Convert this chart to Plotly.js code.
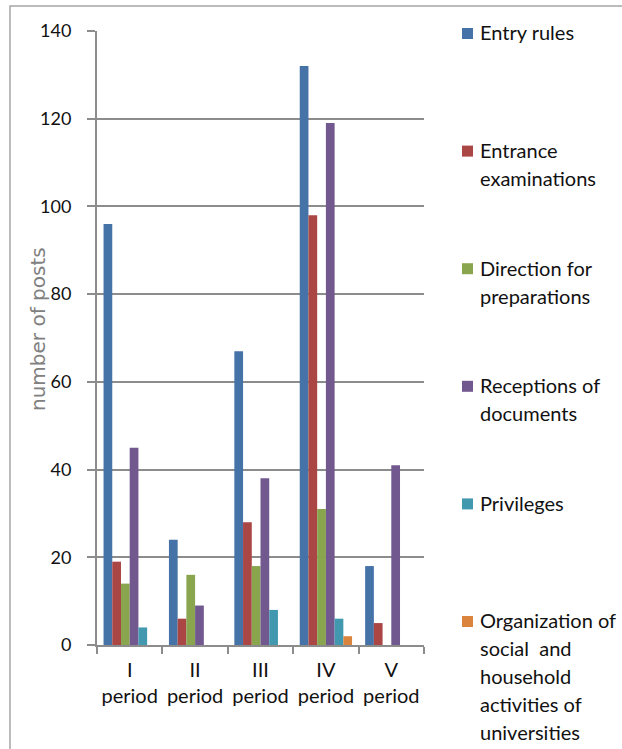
<!DOCTYPE html>
<html>
<head>
<meta charset="utf-8">
<script src="https://cdn.plot.ly/plotly-3.0.1.min.js"></script>
<style>html,body{margin:0;padding:0;background:#fff;}</style>
</head>
<body>
<div id="chart" style="width:622px;height:749px;"></div>
<script>
// ---- data ----
const categories = ["I<br>period", "II<br>period", "III<br>period", "IV<br>period", "V<br>period"];
const seriesNames = [
  "Entry rules",
  "Entrance examinations",
  "Direction for preparations",
  "Receptions of documents",
  "Privileges",
  "Organization of social and household activities of universities"
];
const legendLines = [
  ["Entry rules"],
  ["Entrance", "examinations"],
  ["Direction for", "preparations"],
  ["Receptions of", "documents"],
  ["Privileges"],
  ["Organization of", "social  and", "household", "activities of", "universities"]
];
const entryRules = [96, 24, 67, 132, 18];
const entranceExaminations = [19, 6, 28, 98, 5];
const directionForPreparations = [14, 16, 18, 31, 0];
const receptionsOfDocuments = [45, 9, 38, 119, 41];
const privileges = [4, 0, 8, 6, 0];
const organizationActivities = [0, 0, 0, 2, 0];
const yTickVals = [0, 20, 40, 60, 80, 100, 120, 140];
const yTitle = "number of posts";

// ---- styles ----
const seriesValues = [entryRules, entranceExaminations, directionForPreparations,
                      receptionsOfDocuments, privileges, organizationActivities];
const colors = ["#4572A7", "#AA4643", "#89A54E", "#71588F", "#4198AF", "#DB843D"];
const W = 622, H = 749;
const M = {l: 97, r: 198, t: 31, b: 104};
const PW = W - M.l - M.r, PH = H - M.t - M.b;
const px2x = px => (px - M.l) / PW;
const py2y = py => (H - M.b - py) / PH;
const FONT = "Lato, 'Liberation Sans', sans-serif";
const GRAY = "#8c8c8c";

const traces = seriesValues.map((vals, i) => ({
  type: "bar",
  name: seriesNames[i],
  x: categories,
  y: vals,
  marker: {color: colors[i], line: {width: 0}},
  showlegend: false,
  hoverinfo: "name+y"
}));

const shapes = [];
const annotations = [];

// outer frame
shapes.push({type: "rect", xref: "paper", yref: "paper",
  x0: px2x(10), x1: px2x(760), y0: py2y(6), y1: py2y(900),
  line: {color: "#a6a6a6", width: 1.5}, fillcolor: "rgba(0,0,0,0)", layer: "below"});

// legend drawn as swatches + text
const LEG_BASE0 = 40, LEG_STEP = 117.6, LINE_STEP = 28;
legendLines.forEach((lines, i) => {
  const base = LEG_BASE0 + i * LEG_STEP;
  shapes.push({type: "rect", xref: "paper", yref: "paper",
    x0: px2x(462), x1: px2x(473), y0: py2y(base - 1), y1: py2y(base - 12),
    fillcolor: colors[i], line: {width: 0}});
  lines.forEach((t, j) => {
    annotations.push({xref: "paper", yref: "paper", x: px2x(478), y: py2y(base + j * LINE_STEP - 7.7),
      xanchor: "left", yanchor: "middle", text: t, showarrow: false,
      font: {family: FONT, size: 20, color: "#111"}});
  });
});

// y-axis title
annotations.push({xref: "paper", yref: "paper", x: px2x(38), y: py2y(329),
  xanchor: "center", yanchor: "middle", textangle: -90, text: yTitle, showarrow: false,
  font: {family: "'DejaVu Sans', sans-serif", size: 20, color: "#808080"}});

const layout = {
  width: W, height: H,
  margin: M,
  paper_bgcolor: "#fff", plot_bgcolor: "#fff",
  barmode: "group", bargap: 0.2, bargroupgap: 0,
  showlegend: false,
  xaxis: {
    type: "category",
    tickson: "boundaries",
    tickangle: 0,
    showline: true, linecolor: GRAY, linewidth: 2,
    ticks: "outside", ticklen: 7, tickwidth: 2, tickcolor: GRAY,
    showgrid: false, zeroline: false,
    tickfont: {family: FONT, size: 20, color: "#111"},
    ticklabelstandoff: 6
  },
  yaxis: {
    range: [0, 140],
    tickmode: "array", tickvals: yTickVals,
    showline: true, linecolor: GRAY, linewidth: 2,
    ticks: "outside", ticklen: 8, tickwidth: 2, tickcolor: GRAY,
    showgrid: true, gridcolor: GRAY, gridwidth: 2,
    zeroline: false,
    tickfont: {family: FONT, size: 18, color: "#111"},
    ticklabelstandoff: 12
  },
  shapes: shapes,
  annotations: annotations
};

Plotly.newPlot("chart", traces, layout, {displayModeBar: false, staticPlot: true});
</script>
</body>
</html>
